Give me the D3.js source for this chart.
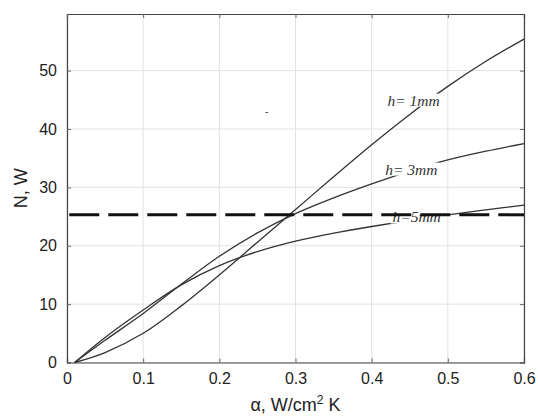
<!DOCTYPE html>
<html>
<head>
<meta charset="utf-8">
<script src="https://cdn.jsdelivr.net/npm/d3@7"></script>
<style>
  body { margin: 0; background: #fff; }
  text { font-family: "Liberation Sans", Arial, sans-serif; }
</style>
</head>
<body>
<div id="chart"></div>
<script>
// data
var alpha = [0.01, 0.05, 0.1, 0.15, 0.2, 0.25, 0.3, 0.35, 0.4, 0.45, 0.5, 0.55, 0.6];
var h1 = [0, 1.7, 5.0, 9.7, 15.0, 20.6, 26.2, 31.8, 37.3, 42.5, 47.3, 51.6, 55.4];
var h3 = [0, 3.8, 8.4, 13.4, 18.2, 22.2, 25.5, 28.2, 30.6, 32.8, 34.7, 36.2, 37.5];
var h5 = [0, 4.3, 9.0, 13.3, 16.6, 19.0, 20.8, 22.15, 23.3, 24.35, 25.3, 26.15, 26.95];
var seriesNames = ["h= 1mm", "h= 3mm", "h=5mm"];
var labelAt = [[0.455, 44.6], [0.452, 32.8], [0.459, 24.6]];
var limitN = 25.3;
var xTicks = [0, 0.1, 0.2, 0.3, 0.4, 0.5, 0.6];
var yTicks = [0, 10, 20, 30, 40, 50];

var width = 538, height = 416;
var x = d3.scaleLinear().domain([0, 0.6]).range([67, 524]);
var y = d3.scaleLinear().domain([0, 59.7]).range([362.5, 14]);

var svg = d3.select("#chart").append("svg")
  .attr("width", width)
  .attr("height", height);

// grid
svg.append("g").selectAll("line").data(xTicks).enter().append("line")
  .attr("x1", function (d) { return x(d); }).attr("x2", function (d) { return x(d); })
  .attr("y1", y.range()[0]).attr("y2", y.range()[1])
  .attr("stroke", "#e2e2e2").attr("stroke-width", 1);
svg.append("g").selectAll("line").data(yTicks).enter().append("line")
  .attr("y1", function (d) { return y(d); }).attr("y2", function (d) { return y(d); })
  .attr("x1", x.range()[0]).attr("x2", x.range()[1])
  .attr("stroke", "#e2e2e2").attr("stroke-width", 1);

// axes with inward ticks
var xAxis = d3.axisBottom(x).tickValues(xTicks).tickSize(-4).tickPadding(10)
  .tickFormat(function (d) { return d === 0 ? "0" : d3.format(".1f")(d); });
var yAxis = d3.axisLeft(y).tickValues(yTicks).tickSize(-4).tickPadding(10);

var gx = svg.append("g").attr("transform", "translate(0," + y.range()[0] + ")").call(xAxis);
var gy = svg.append("g").attr("transform", "translate(" + x.range()[0] + ",0)").call(yAxis);
svg.append("g").attr("transform", "translate(0," + y.range()[1] + ")")
  .call(d3.axisTop(x).tickValues(xTicks).tickSize(-4).tickFormat(""));
svg.append("g").attr("transform", "translate(" + x.range()[1] + ",0)")
  .call(d3.axisRight(y).tickValues(yTicks).tickSize(-4).tickFormat(""));

svg.selectAll(".domain").attr("stroke", "#444").attr("stroke-width", 1.2);
svg.selectAll(".tick line").attr("stroke", "#666");
gx.selectAll("text").attr("font-size", 16).attr("fill", "#222");
gy.selectAll("text").attr("font-size", 16).attr("fill", "#222");

// curves
var line = d3.line()
  .x(function (d) { return x(d[0]); })
  .y(function (d) { return y(d[1]); })
  .curve(d3.curveCatmullRom.alpha(0.5));

[h1, h3, h5].forEach(function (vals) {
  svg.append("path")
    .datum(alpha.map(function (a, i) { return [a, vals[i]]; }))
    .attr("d", line)
    .attr("fill", "none")
    .attr("stroke", "#333")
    .attr("stroke-width", 1.3);
});

// curve labels with white backing
seriesNames.forEach(function (name, i) {
  var g = svg.append("g");
  var t = g.append("text")
    .attr("x", x(labelAt[i][0]))
    .attr("y", y(labelAt[i][1]))
    .attr("text-anchor", "middle")
    .attr("dominant-baseline", "middle")
    .style("font-family", "'Liberation Serif', 'Times New Roman', serif")
    .style("font-style", "italic")
    .attr("font-size", 15.5)
    .attr("fill", "#333")
    .text(name);
  var bb = t.node().getBBox();
  g.insert("rect", "text")
    .attr("x", bb.x - 2).attr("y", bb.y + 2)
    .attr("width", bb.width + 4).attr("height", bb.height - 4)
    .attr("fill", "#fff");
});

// stray mark in the original
svg.append("text")
  .attr("x", x(0.262)).attr("y", y(42.8))
  .attr("text-anchor", "middle")
  .attr("dominant-baseline", "middle")
  .attr("font-size", 10)
  .attr("fill", "#333")
  .text("-");

// limit line
svg.append("line")
  .attr("x1", x(0.003)).attr("x2", x(0.6))
  .attr("y1", y(limitN)).attr("y2", y(limitN))
  .attr("stroke", "#111")
  .attr("stroke-width", 3)
  .attr("stroke-dasharray", "30,9");

// axis titles
svg.append("text")
  .attr("transform", "translate(27," + ((y.range()[0] + y.range()[1]) / 2) + ") rotate(-90)")
  .attr("text-anchor", "middle")
  .attr("font-size", 18)
  .attr("fill", "#222")
  .text("N, W");

var xt = svg.append("text")
  .attr("x", (x.range()[0] + x.range()[1]) / 2)
  .attr("y", 411)
  .attr("text-anchor", "middle")
  .attr("font-size", 18)
  .attr("fill", "#222");
xt.append("tspan").text("α, W/cm");
xt.append("tspan").attr("font-size", 12).attr("dy", -7).text("2");
xt.append("tspan").attr("dy", 7).text(" K");
</script>
</body>
</html>
